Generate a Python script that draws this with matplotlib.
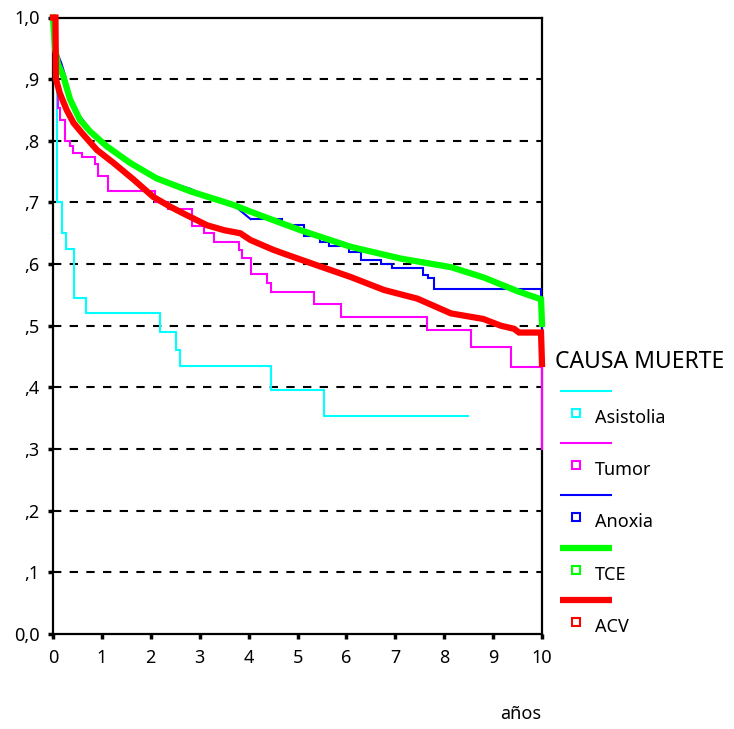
import matplotlib
matplotlib.use('Agg')
import matplotlib.pyplot as plt
from matplotlib.lines import Line2D

plt.rcParams['font.family'] = ['Noto Sans', 'DejaVu Sans']

# supervivencia por causa de muerte
asis_t = [0, 0.08, 0.18, 0.26, 0.43, 0.67, 2.18, 2.52, 2.59, 4.45, 5.54, 8.48]
asis_s = [1.0, 0.70, 0.650, 0.624, 0.545, 0.520, 0.490, 0.461, 0.435, 0.396, 0.354, 0.354]

tum_t = [0, 0.05, 0.10, 0.15, 0.25, 0.35, 0.40, 0.59, 0.85, 0.93, 1.13, 2.09, 2.36,
         2.84, 3.08, 3.29, 3.80, 3.87, 4.04, 4.38, 4.45, 5.33, 5.88, 7.64, 8.55, 9.36, 10.0, 10.0]
tum_s = [1.0, 0.90, 0.853, 0.834, 0.80, 0.791, 0.78, 0.773, 0.762, 0.743, 0.718, 0.701, 0.690,
         0.662, 0.650, 0.636, 0.623, 0.610, 0.584, 0.569, 0.555, 0.535, 0.515, 0.493, 0.465, 0.433, 0.30, 0.30]

anox_t = [0, 0.05, 0.17, 0.25, 0.35, 0.45, 0.55, 0.76, 0.95, 1.10, 1.35, 1.58, 1.85, 2.12, 2.50,
          2.81, 3.20, 3.69, 4.04, 4.34, 4.69, 5.13, 5.47, 5.64, 6.05, 6.29, 6.70, 6.94, 7.56,
          7.66, 7.79, 9.98, 10.0]
anox_s = [1.0, 0.95, 0.926, 0.905, 0.87, 0.85, 0.84, 0.818, 0.802, 0.793, 0.778, 0.765, 0.752, 0.742, 0.730,
          0.722, 0.708, 0.696, 0.673, 0.673, 0.663, 0.645, 0.636, 0.630, 0.619, 0.606, 0.600, 0.593, 0.583,
          0.577, 0.559, 0.512, 0.49]

tce_t = [0, 0.04, 0.10, 0.21, 0.35, 0.55, 0.76, 1.10, 1.58, 2.12, 2.81, 3.69, 4.04, 5.06,
         6.09, 7.11, 8.14, 8.82, 9.50, 9.98, 10.0]
tce_s = [1.0, 0.95, 0.925, 0.905, 0.867, 0.834, 0.815, 0.791, 0.764, 0.739, 0.718, 0.696, 0.685, 0.655,
         0.628, 0.609, 0.595, 0.578, 0.556, 0.543, 0.503]

acv_t = [0, 0.05, 0.06, 0.14, 0.28, 0.42, 0.62, 0.90, 1.24, 1.65, 2.05, 2.40, 2.67, 3.15, 3.50,
         3.83, 4.04, 4.51, 4.72, 5.40, 6.09, 6.77, 7.45, 8.14, 8.80, 9.16, 9.43, 9.53, 9.98, 10.0]
acv_s = [1.0, 1.0, 0.90, 0.877, 0.850, 0.829, 0.810, 0.785, 0.764, 0.737, 0.709, 0.693, 0.682, 0.663, 0.655,
         0.650, 0.639, 0.623, 0.617, 0.598, 0.579, 0.558, 0.544, 0.520, 0.511, 0.500, 0.495, 0.489, 0.489, 0.438]

names = ['Asistolia', 'Tumor', 'Anoxia', 'TCE', 'ACV']
colors = ['#00ffff', '#ff00ff', '#0000ff', '#00ff00', '#ff0000']
widths = [1.5, 1.5, 1.5, 4.5, 4.5]
yticks = [0, 0.1, 0.2, 0.3, 0.4, 0.5, 0.6, 0.7, 0.8, 0.9, 1.0]
ylabels = ['0,0', ',1', ',2', ',3', ',4', ',5', ',6', ',7', ',8', ',9', '1,0']

fig = plt.figure(figsize=(7.34, 7.29), dpi=100)
ax = fig.add_axes([53/734, 1 - 634/729, (542-53)/734, (634-17.5)/729])

for y in yticks[1:-1]:
    ax.axhline(y, color='black', lw=1.5, linestyle=(0, (4, 4)), zorder=1)

kw = dict(clip_on=False, zorder=3, solid_joinstyle='miter')
ax.plot(asis_t, asis_s, color=colors[0], lw=widths[0], drawstyle='steps-post', **kw)
ax.plot(tum_t, tum_s, color=colors[1], lw=widths[1], drawstyle='steps-post', **kw)
# anoxia: escalones finos al principio (casi tapados por TCE), escalones claros despues
k = anox_t.index(4.04)
ax.plot(anox_t[:k + 1], anox_s[:k + 1], color=colors[2], lw=widths[2], **kw)
ax.plot(anox_t[k:], anox_s[k:], color=colors[2], lw=widths[2], drawstyle='steps-post', **kw)
ax.plot(tce_t, tce_s, color=colors[3], lw=widths[3], **kw)
ax.plot(acv_t, acv_s, color=colors[4], lw=widths[4], **kw)

ax.set_xlim(0, 10)
ax.set_ylim(0, 1)
ax.set_xticks(range(11))
ax.set_yticks(yticks)
ax.set_yticklabels(ylabels)
ax.tick_params(axis='both', length=3.6, width=2.5, labelsize=13, color='black')
ax.tick_params(axis='y', pad=6)
ax.tick_params(axis='x', pad=7)
for sp in ax.spines.values():
    sp.set_linewidth(1.6)

# leyenda dibujada a mano
W, H = 734, 729
fig.text(555/W, 1 - 362/H, 'CAUSA MUERTE', fontsize=16.5, ha='left', va='center')
for i, (n, c, w) in enumerate(zip(names, colors, widths)):
    yl = 391 + 52.2 * i
    fig.add_artist(Line2D([560/W, 612/W], [1 - yl/H, 1 - yl/H], color=c, lw=w,
                          solid_capstyle='butt'))
    fig.add_artist(Line2D([575.5/W], [1 - (yl + 22)/H], marker='s', markersize=5.5,
                          markerfacecolor='white', markeredgecolor=c, markeredgewidth=1.5, lw=0))
    fig.text(595/W, 1 - (yl + 27)/H, n, fontsize=13, ha='left', va='center')

fig.text(541/W, 1 - 714/H, 'años', fontsize=13, ha='right', va='center')

fig.savefig('out.png', dpi=100)
